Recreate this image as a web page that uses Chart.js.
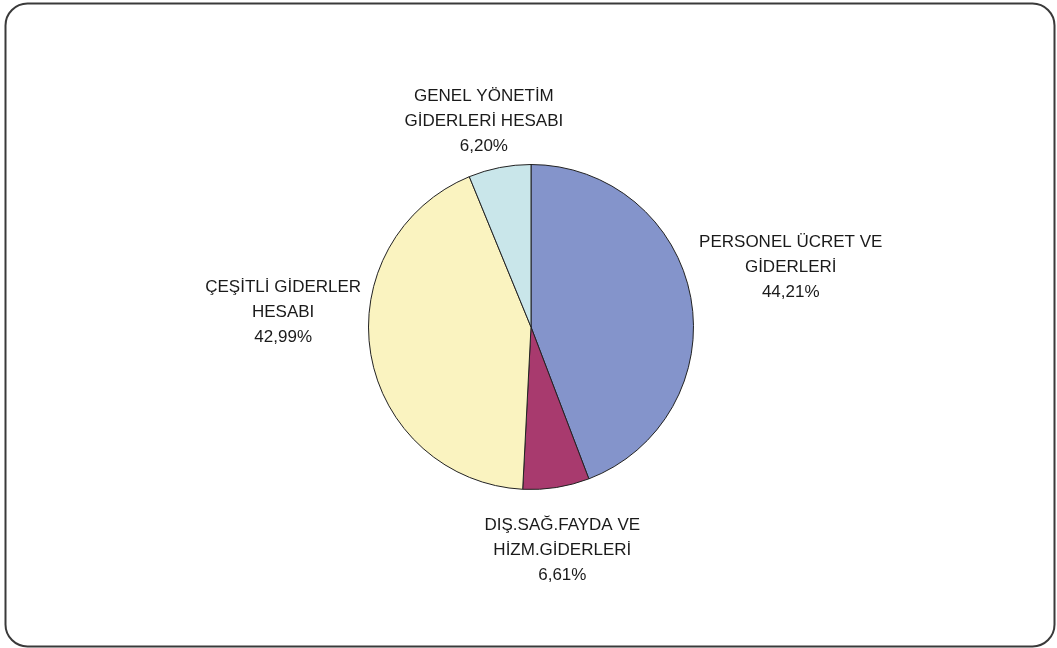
<!DOCTYPE html>
<html lang="tr">
<head>
<meta charset="UTF-8">
<title>Gider Dağılımı</title>
<script src="https://cdn.jsdelivr.net/npm/chart.js"></script>
<style>
    html, body { margin: 0; padding: 0; background: #fff; }
    #wrap { position: relative; width: 1057px; height: 648px; }
</style>
</head>
<body>
<div id="wrap"><canvas id="myChart" width="1057" height="648"></canvas></div>
<script>
// slice order clockwise from 12 o'clock
const categories = [
    ['PERSONEL ÜCRET VE', 'GİDERLERİ'],
    ['DIŞ.SAĞ.FAYDA VE', 'HİZM.GİDERLERİ'],
    ['ÇEŞİTLİ GİDERLER', 'HESABI'],
    ['GENEL YÖNETİM', 'GİDERLERİ HESABI']
];
const shares = [44.21, 6.61, 42.99, 6.20];
const percentLabels = ['44,21%', '6,61%', '42,99%', '6,20%'];
const sliceColors = ['#8494CB', '#A83A6E', '#FAF3C0', '#C9E6EA'];

// rounded frame around the picture
const framePlugin = {
    id: 'frame',
    beforeDraw(chart) {
        const ctx = chart.ctx;
        ctx.save();
        ctx.fillStyle = '#fff';
        ctx.fillRect(0, 0, chart.width, chart.height);
        ctx.beginPath();
        ctx.roundRect(5.5, 3.5, chart.width - 8, chart.height - 5, 22);
        ctx.lineWidth = 2;
        ctx.strokeStyle = '#3a3a3a';
        ctx.stroke();
        ctx.restore();
    }
};

// outside labels, placed along each slice's mid angle (Excel-ish best fit)
const outLabels = {
    id: 'outLabels',
    afterDatasetsDraw(chart, args, opts) {
        const ctx = chart.ctx;
        const meta = chart.getDatasetMeta(0);
        const lineH = 25;
        ctx.save();
        ctx.font = '17px "Liberation Sans", Arial, sans-serif';
        ctx.fillStyle = '#1a1a1a';
        ctx.textAlign = 'center';
        ctx.textBaseline = 'middle';
        meta.data.forEach((arc, i) => {
            const p = arc.getProps(['x', 'y', 'startAngle', 'endAngle', 'outerRadius'], true);
            const mid = (p.startAngle + p.endAngle) / 2;
            const dx = Math.cos(mid), dy = Math.sin(mid);
            const lines = categories[i].concat([percentLabels[i]]);
            const w = Math.max(...lines.map(l => ctx.measureText(l).width));
            const h = lines.length * lineH;
            const r = p.outerRadius + 12;
            const nudge = opts.nudge[i] || [0, 0];
            const cx = p.x + dx * (r + w / 2) + nudge[0];
            const cy = p.y + dy * (r + h / 2) + nudge[1];
            lines.forEach((l, k) => {
                ctx.fillText(l, cx, cy - h / 2 + lineH / 2 + k * lineH);
            });
        });
        ctx.restore();
    }
};

const ctx = document.getElementById('myChart').getContext('2d');
new Chart(ctx, {
    type: 'pie',
    data: {
        labels: categories.map(c => c.join(' ')),
        datasets: [{
            data: shares,
            backgroundColor: sliceColors,
            borderColor: '#222',
            borderWidth: 1
        }]
    },
    options: {
        responsive: false,
        animation: false,
        layout: { padding: { left: 368, right: 363, top: 164, bottom: 158 } },
        plugins: {
            legend: { display: false },
            tooltip: { enabled: false },
            outLabels: { nudge: [[-2, -21], [-8, 14], [1, -50], [2, 2]] }
        }
    },
    plugins: [framePlugin, outLabels]
});
</script>
</body>
</html>
